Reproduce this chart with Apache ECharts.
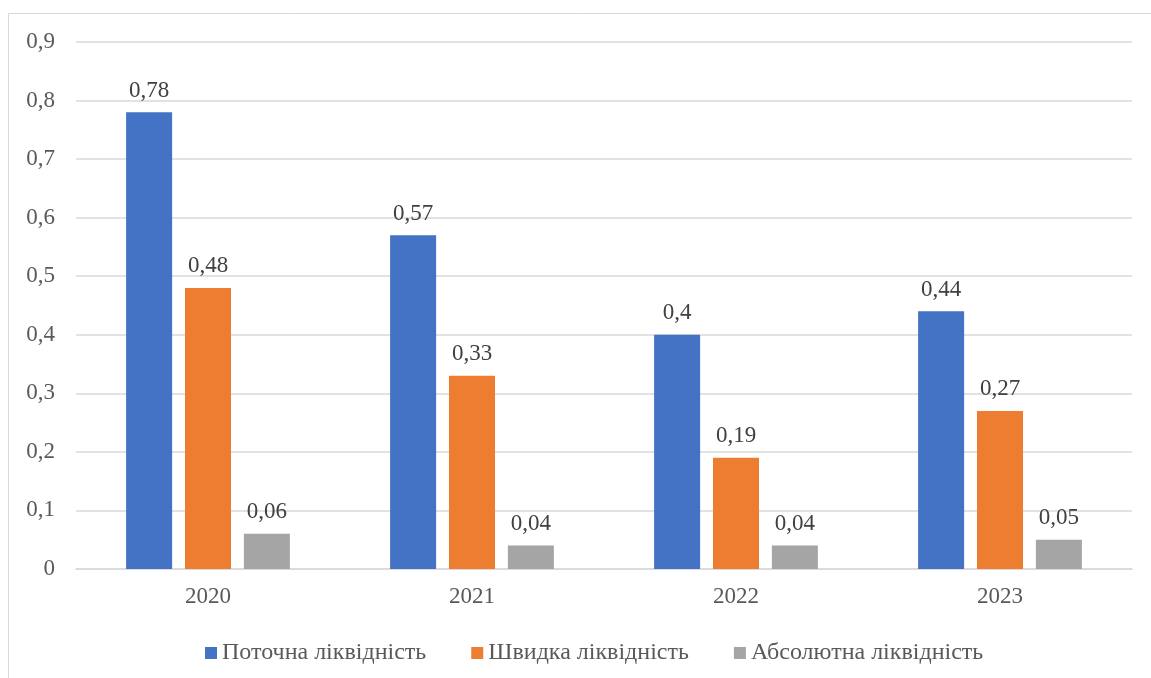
<!DOCTYPE html>
<html><head><meta charset="utf-8">
<script src="https://cdn.jsdelivr.net/npm/echarts@6/dist/echarts.min.js"></script>
<style>html,body{margin:0;padding:0;background:#fff;}#c{width:1151px;height:678px;}</style>
</head><body><div id="c"></div>
<script>
const categories = ['2020','2021','2022','2023'];
const seriesNames = ['Поточна ліквідність','Швидка ліквідність','Абсолютна ліквідність'];
const currentLiquidity = [0.78, 0.57, 0.4, 0.44];
const quickLiquidity = [0.48, 0.33, 0.19, 0.27];
const absoluteLiquidity = [0.06, 0.04, 0.04, 0.05];
const colors = ['#4472c4','#ed7d31','#a5a5a5'];
const fmt = v => String(v).replace('.', ',');
const font = "'Liberation Serif', 'Times New Roman', serif";
const chart = echarts.init(document.getElementById('c'));
const mk = (name, data, color) => ({
  name, type: 'bar', data, barWidth: 46, barGap: '28%',
  itemStyle: {color},
  label: {show: true, position: 'top', distance: 10, color: '#404040', fontFamily: font, fontSize: 23,
    formatter: p => fmt(p.value)}
});
chart.setOption({
  animation: false,
  textStyle: {fontFamily: font},
  graphic: [{type: 'polyline', shape: {points: [[8.5, 700], [8.5, 13.5], [1160, 13.5]]},
    style: {stroke: '#d9d9d9', lineWidth: 1, fill: null}}],
  grid: {left: 76, right: 19, top: 42, bottom: 109},
  legend: {top: 636, left: 200, itemWidth: 12, itemHeight: 12, itemGap: 45,
    icon: 'rect', textStyle: {color: '#595959', fontSize: 24, fontFamily: font}, data: seriesNames},
  xAxis: {type: 'category', data: categories,
    axisLine: {lineStyle: {color: '#d9d9d9', width: 1.5}}, axisTick: {show: false},
    axisLabel: {color: '#595959', fontSize: 23, fontFamily: font, margin: 16}},
  yAxis: {type: 'value', min: 0, max: 0.9, interval: 0.1,
    axisLine: {show: false}, axisTick: {show: false},
    splitLine: {lineStyle: {color: '#d9d9d9', width: 1.5}},
    axisLabel: {color: '#595959', fontSize: 23, fontFamily: font, margin: 21,
      formatter: v => fmt(Math.round(v * 10) / 10)}},
  series: [mk(seriesNames[0], currentLiquidity, colors[0]), mk(seriesNames[1], quickLiquidity, colors[1]), mk(seriesNames[2], absoluteLiquidity, colors[2])]
});
</script></body></html>
